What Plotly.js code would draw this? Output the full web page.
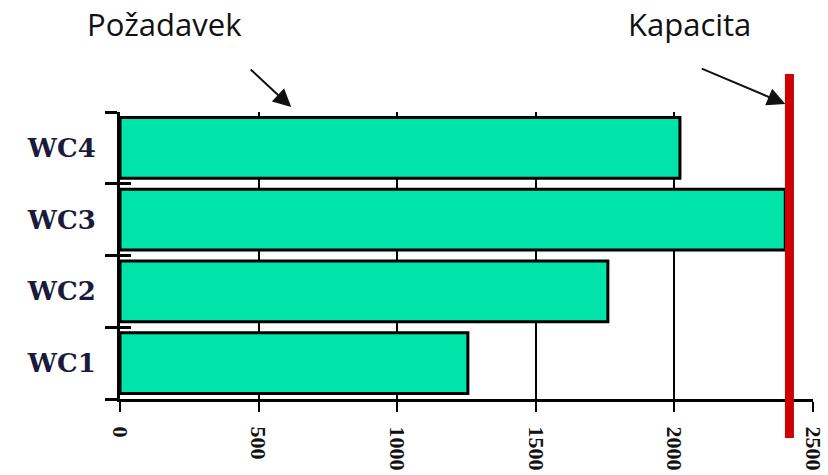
<!DOCTYPE html>
<html>
<head>
<meta charset="utf-8">
<script src="https://cdn.plot.ly/plotly-3.0.1.min.js"></script>
<style>html,body{margin:0;padding:0;background:#fff;}#chart{width:828px;height:475px;}</style>
</head>
<body>
<div id="chart"></div>
<script>
// Data
const categories = ['WC1', 'WC2', 'WC3', 'WC4'];
const demand = [1255, 1760, 2400, 2020];
const capacity = 2415;
const xTickValues = [0, 500, 1000, 1500, 2000, 2500];
const xTickLabels = ['0', '500', '1000', '1500', '2000', '2500'];
const labelDemand = 'Požadavek';
const labelCapacity = 'Kapacita';

const serif = '"Liberation Serif", "Times New Roman", serif';
const serifWide = '"DejaVu Serif", "Liberation Serif", serif';
const sans = '"Open Sans", "Noto Sans", sans-serif';

const traces = [
  {
    type: 'bar',
    orientation: 'h',
    y: categories,
    x: demand,
    marker: {color: '#00E3A9', line: {color: '#000', width: 3}},
    hoverinfo: 'skip',
    showlegend: false
  },
  {
    type: 'bar',
    orientation: 'h',
    y: categories,
    x: categories.map(() => 0),
    yaxis: 'y2',
    marker: {opacity: 0, line: {width: 0}},
    hoverinfo: 'skip',
    showlegend: false
  }
];

const layout = {
  width: 828,
  height: 475,
  margin: {l: 120, r: 15, t: 112, b: 76},
  paper_bgcolor: '#fff',
  plot_bgcolor: '#fff',
  bargap: 0.15,
  showlegend: false,
  xaxis: {
    range: [0, 2500],
    tickvals: xTickValues,
    ticktext: xTickLabels,
    tickangle: 90,
    ticks: 'outside',
    ticklen: 10,
    tickwidth: 2,
    tickcolor: '#000',
    ticklabelstandoff: 10,
    showline: true,
    linewidth: 3,
    linecolor: '#000',
    showgrid: true,
    gridcolor: '#000',
    gridwidth: 2,
    zeroline: false,
    tickfont: {family: serif, size: 22, color: '#111', weight: 'bold'},
    fixedrange: true
  },
  yaxis: {
    type: 'category',
    categoryorder: 'array',
    categoryarray: categories,
    tickson: 'boundaries',
    ticks: 'outside',
    ticklen: 12,
    tickwidth: 3,
    tickcolor: '#000',
    showline: true,
    linewidth: 3,
    linecolor: '#000',
    showgrid: false,
    ticklabelstandoff: 16,
    tickfont: {family: serifWide, size: 26, color: '#1a1a3a', weight: 'bold'},
    fixedrange: true
  },
  yaxis2: {
    type: 'category',
    categoryorder: 'array',
    categoryarray: categories,
    overlaying: 'y',
    side: 'left',
    tickson: 'boundaries',
    ticks: 'inside',
    ticklen: 11,
    tickwidth: 3,
    tickcolor: '#000',
    showticklabels: false,
    showline: false,
    showgrid: false,
    fixedrange: true
  },
  shapes: [
    {
      type: 'line',
      xref: 'x', yref: 'paper',
      x0: capacity, x1: capacity,
      y0: -0.136, y1: 1.132,
      line: {color: '#CC0000', width: 9},
      layer: 'above'
    }
  ],
  annotations: [
    {
      xref: 'paper', yref: 'paper',
      x: 0.064, y: 1.305,
      text: labelDemand,
      showarrow: false,
      font: {family: sans, size: 31, color: '#111'},
      xanchor: 'center', yanchor: 'middle'
    },
    {
      xref: 'paper', yref: 'paper',
      x: 0.822, y: 1.305,
      text: labelCapacity,
      showarrow: false,
      font: {family: sans, size: 31, color: '#111'},
      xanchor: 'center', yanchor: 'middle'
    },
    {
      xref: 'paper', yref: 'paper',
      x: 0.247, y: 1.017,
      text: '',
      showarrow: true,
      arrowhead: 2,
      arrowsize: 1.8,
      arrowwidth: 2,
      arrowcolor: '#111',
      ax: -42, ay: -39
    },
    {
      xref: 'paper', yref: 'paper',
      x: 0.96, y: 1.028,
      text: '',
      showarrow: true,
      arrowhead: 2,
      arrowsize: 1.8,
      arrowwidth: 2,
      arrowcolor: '#111',
      ax: -85, ay: -36
    }
  ]
};

Plotly.newPlot('chart', traces, layout, {staticPlot: true, displayModeBar: false});
</script>
</body>
</html>
